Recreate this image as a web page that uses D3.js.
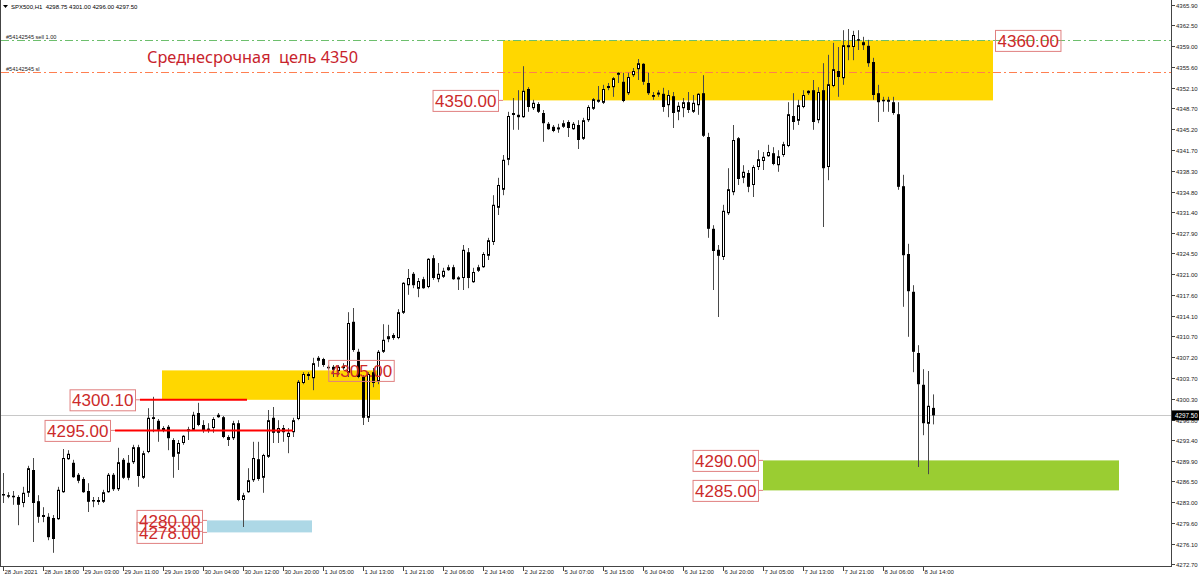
<!DOCTYPE html>
<html><head><meta charset="utf-8">
<script src="https://cdn.jsdelivr.net/npm/d3@7"></script>
<style>html,body{margin:0;padding:0;background:#fff;overflow:hidden}svg{display:block}</style>
</head><body>
<svg id="c" width="1200" height="579"></svg>
<script>
// ---- DATA (SPX500, H1) ----
const opens = [
4284.4,4284.2,4284.1,4283.9,4282.9,4284.6,4288.4,4283.2,4280.6,4280.6,
4280.4,4280.2,4284.7,4290.2,4289.6,4287.6,4286.9,4284.9,4283.4,4283.2,
4283.1,4284.7,4287.6,4285.2,4290.1,4289.6,4289.7,4292.2,4287.1,4291.4,
4297.2,4296.6,4295.1,4295.6,4293.4,4291.1,4292.9,4294.9,4295.1,4297.9,
4295.9,4295.0,4295.4,4297.2,4297.2,4293.9,4293.7,4296.2,4283.4,4284.7,
4286.7,4290.2,4287.1,4290.6,4297.1,4294.6,4295.4,4293.9,4294.7,4296.9,
4302.9,4304.1,4303.7,4306.6,4306.9,4305.6,4305.6,4304.9,4305.6,4304.6,
4313.1,4308.1,4303.9,4297.1,4304.7,4303.1,4308.1,4310.2,4310.9,4310.4,
4314.6,4319.2,4321.1,4318.6,4320.2,4318.9,4323.7,4320.2,4320.6,4321.7,
4322.2,4320.4,4320.4,4324.7,4319.7,4321.6,4322.2,4324.1,4326.4,4332.1,
4335.1,4340.1,4347.6,4347.6,4347.2,4351.9,4348.7,4349.4,4347.9,4346.1,
4345.6,4345.2,4345.6,4346.4,4345.2,4345.9,4343.6,4346.7,4348.6,4349.9,
4349.6,4352.1,4352.2,4354.5,4353.1,4351.2,4354.2,4355.2,4356.1,4352.9,
4350.9,4351.1,4351.1,4349.2,4350.7,4348.1,4348.7,4349.7,4348.1,4349.2,
4351.2,4343.9,4328.6,4325.1,4323.9,4331.2,4334.7,4343.7,4337.1,4337.9,
4335.9,4338.9,4339.9,4340.7,4341.2,4339.2,4340.9,4342.4,4347.4,4346.6,
4348.9,4351.2,4351.7,4346.7,4351.7,4338.9,4352.4,4354.9,4353.7,4358.9,
4358.9,4360.2,4359.7,4359.1,4356.4,4351.2,4350.1,4349.9,4349.7,4347.7,
4335.7,4324.4,4318.1,4307.9,4302.6,4296.1,4298.75];
const highs = [
4287.9,4284.7,4284.9,4284.2,4285.6,4289.1,4290.4,4284.2,4282.2,4281.2,
4280.9,4285.6,4291.9,4291.7,4290.1,4287.9,4287.2,4286.2,4283.9,4283.9,
4285.1,4287.9,4287.9,4292.1,4290.4,4290.9,4292.6,4292.6,4291.6,4298.7,
4300.6,4296.9,4295.7,4295.9,4293.7,4293.4,4294.2,4295.6,4298.1,4299.6,
4296.7,4296.2,4297.2,4297.9,4297.4,4294.2,4296.6,4296.7,4284.6,4288.7,
4293.1,4293.1,4291.1,4298.4,4298.9,4296.7,4295.9,4295.4,4297.1,4303.4,
4304.7,4304.7,4307.1,4307.4,4307.1,4305.9,4305.9,4305.9,4306.2,4314.7,
4315.4,4308.6,4304.2,4304.7,4305.4,4308.4,4312.7,4312.6,4311.2,4315.2,
4319.7,4321.9,4321.4,4320.4,4320.6,4323.7,4324.2,4322.9,4322.1,4322.6,
4322.6,4320.7,4325.9,4325.4,4322.1,4322.6,4324.7,4327.1,4334.2,4337.1,
4340.9,4348.1,4350.4,4351.7,4355.7,4352.2,4350.1,4349.7,4348.4,4346.4,
4345.9,4346.1,4346.7,4346.7,4346.4,4346.7,4347.1,4349.2,4350.4,4352.4,
4352.6,4352.9,4353.9,4354.7,4354.6,4354.6,4355.4,4356.9,4356.2,4354.6,
4351.4,4351.7,4352.1,4351.7,4351.4,4349.7,4350.4,4351.4,4350.9,4351.2,
4354.2,4344.6,4329.2,4325.9,4332.6,4338.7,4345.9,4343.9,4339.2,4338.4,
4339.2,4341.7,4341.4,4342.6,4342.2,4341.7,4343.1,4349.7,4351.2,4350.1,
4351.7,4351.7,4353.4,4352.2,4356.2,4357.6,4359.6,4358.9,4361.7,4361.9,
4361.6,4361.7,4360.6,4360.1,4357.1,4352.6,4350.6,4350.6,4350.6,4349.7,
4337.6,4326.1,4319.2,4309.2,4305.2,4304.9,4301.0];
const lows = [
4282.9,4283.7,4282.6,4279.2,4282.2,4283.9,4276.4,4279.6,4279.7,4276.7,
4274.6,4280.1,4284.6,4290.1,4287.1,4286.2,4284.6,4281.4,4282.2,4282.6,
4282.9,4284.6,4284.9,4284.9,4286.9,4286.7,4289.4,4285.6,4286.9,4291.2,
4294.7,4293.1,4294.7,4291.7,4287.1,4288.4,4292.6,4293.4,4294.9,4295.7,
4294.6,4294.6,4294.6,4297.1,4293.7,4292.4,4293.4,4283.2,4278.9,4284.6,
4286.4,4286.6,4284.6,4290.4,4292.9,4292.9,4293.1,4291.2,4293.9,4296.7,
4302.7,4303.4,4301.7,4305.6,4305.6,4305.1,4303.9,4304.2,4305.1,4303.9,
4308.1,4303.7,4295.9,4296.4,4302.2,4302.7,4307.9,4309.7,4310.1,4310.2,
4314.4,4317.6,4318.7,4317.2,4318.6,4318.7,4320.1,4319.7,4320.4,4321.6,
4320.1,4318.4,4318.4,4318.7,4319.6,4321.4,4322.1,4323.4,4325.9,4330.9,
4334.2,4339.2,4345.1,4345.1,4347.1,4348.1,4348.4,4347.9,4343.1,4345.1,
4344.7,4344.6,4345.4,4343.9,4345.1,4341.9,4343.4,4346.4,4348.4,4349.6,
4349.4,4351.7,4350.6,4352.9,4349.7,4350.9,4353.9,4353.4,4352.6,4350.9,
4350.1,4350.6,4348.1,4347.2,4345.4,4346.7,4347.2,4347.9,4347.9,4347.6,
4343.9,4327.1,4318.4,4313.9,4323.4,4330.9,4334.2,4335.9,4336.2,4334.7,
4333.9,4338.4,4338.4,4340.6,4339.2,4338.1,4340.6,4342.2,4345.1,4345.9,
4348.7,4350.9,4345.1,4346.2,4328.9,4336.7,4352.2,4350.6,4352.6,4356.7,
4356.7,4358.4,4358.4,4355.6,4350.1,4346.4,4348.1,4348.1,4347.6,4335.1,
4315.6,4310.6,4304.7,4288.9,4294.2,4287.7,4296.0];
const closes = [
4284.2,4284.1,4284.0,4282.6,4284.6,4288.7,4282.9,4280.6,4280.9,4277.2,
4276.9,4285.1,4290.4,4291.1,4287.2,4286.6,4284.7,4283.1,4283.2,4283.4,
4284.7,4287.6,4285.2,4289.7,4287.1,4287.1,4292.2,4287.4,4291.2,4297.1,
4296.9,4295.1,4295.4,4293.7,4290.6,4292.9,4294.1,4295.2,4297.6,4295.9,
4294.9,4295.3,4296.9,4297.6,4293.9,4293.4,4296.2,4283.4,4284.2,4286.7,
4290.4,4286.9,4290.9,4296.7,4294.6,4295.4,4294.7,4294.6,4296.7,4303.1,
4304.4,4304.4,4306.2,4307.1,4305.9,4305.4,4305.1,4305.6,4305.7,4312.9,
4308.4,4303.9,4297.1,4304.4,4302.9,4308.1,4310.1,4310.7,4310.4,4314.7,
4319.6,4320.4,4319.2,4319.9,4318.7,4323.6,4320.4,4321.1,4321.6,4322.2,
4320.2,4320.5,4325.1,4320.4,4321.4,4322.2,4324.4,4326.7,4332.6,4335.9,
4340.1,4347.4,4347.9,4347.2,4351.6,4348.9,4349.6,4348.1,4346.2,4345.2,
4344.9,4345.5,4346.2,4345.4,4346.1,4343.4,4346.7,4348.9,4350.2,4350.1,
4351.9,4352.4,4353.7,4354.6,4349.9,4353.9,4354.9,4356.2,4353.1,4351.2,
4350.6,4351.3,4348.9,4350.9,4347.9,4349.1,4349.7,4348.4,4349.6,4351.1,
4344.1,4328.6,4324.9,4324.1,4331.6,4335.2,4343.4,4336.9,4338.1,4335.6,
4338.9,4340.2,4340.6,4341.4,4339.4,4340.7,4342.7,4347.7,4346.4,4349.2,
4350.9,4351.6,4346.4,4351.4,4338.7,4352.7,4355.2,4353.9,4359.2,4359.2,
4360.9,4360.1,4359.2,4356.2,4350.9,4349.7,4349.9,4350.1,4347.9,4335.6,
4324.2,4318.2,4308.1,4302.7,4296.2,4299.1,4297.5];

const timeLabels = ["28 Jun 2021","28 Jun 18:00","29 Jun 03:00","29 Jun 11:00","29 Jun 19:00","30 Jun 04:00",
"30 Jun 12:00","30 Jun 20:00","1 Jul 05:00","1 Jul 13:00","1 Jul 21:00","2 Jul 06:00","2 Jul 14:00",
"2 Jul 22:00","5 Jul 07:00","5 Jul 15:00","6 Jul 04:00","6 Jul 12:00","6 Jul 20:00","7 Jul 05:00",
"7 Jul 13:00","7 Jul 21:00","8 Jul 06:00","8 Jul 14:00"];
const timeLabelStep = 8; // bars between labels
const priceTicks = [4365.90,4362.50,4359.00,4355.60,4352.10,4348.70,4345.20,4341.70,4338.30,4334.80,
4331.40,4327.90,4324.50,4321.00,4317.60,4314.10,4310.70,4307.20,4303.70,4300.30,4296.80,4293.40,
4289.90,4286.50,4283.00,4279.60,4276.10,4272.70];
const headerText = "SPX500,H1  4298.75 4301.00 4296.00 4297.50";
const lastPrice = 4297.50;
const titleText = "Среднесрочная  цель 4350";

// zones: price top/bottom, bar index start/end
const zones = [
  {top:4360, bottom:4350, from:100, to:198, color:"#ffd700"},
  {top:4305, bottom:4300.1, from:31.8, to:75.4, color:"#ffd700"},
  {top:4280, bottom:4278, from:40.8, to:61.8, color:"#add8e6"},
  {top:4290, bottom:4285, from:152, to:223.2, color:"#9acd32"}
];
const levels = [ {price:4300.1, from:27.4, to:48.8}, {price:4295.0, from:22.4, to:58} ];
const orderLines = [
  {price:4360.0, text:"#54142545 sell 1.00", color:"#6dbf6d"},
  {price:4354.75, text:"#54142545 sl", color:"#ff7f50"}
];
const priceLabels = [
  {text:"4360.00", price:4360, at:198, side:"right"},
  {text:"4350.00", price:4350, at:100, side:"left"},
  {text:"4305.00", price:4305, at:71.6, side:"center"},
  {text:"4300.10", price:4300.1, at:27.4, side:"left"},
  {text:"4295.00", price:4295, at:22.4, side:"left"},
  {text:"4280.00", price:4280, at:40.8, side:"left"},
  {text:"4278.00", price:4278, at:40.8, side:"left"},
  {text:"4290.00", price:4290, at:152, side:"left"},
  {text:"4285.00", price:4285, at:152, side:"left"}
];

// ---- DRAW ----
const W = 1200, H = 579, axisX = 1171, axisY = 566;
const svg = d3.select("#c");
const FONT = "Liberation Sans, Arial, sans-serif";
const x = d3.scaleLinear().domain([0, opens.length-1]).range([3, 3 + 5*(opens.length-1)]);
const y = d3.scaleLinear().domain([4272.70, 4365.90]).range([564.2, 5]);

const plot = svg.append("g");
svg.append("defs").append("clipPath").attr("id","clip").append("rect")
  .attr("x",1).attr("y",0).attr("width",axisX-1).attr("height",axisY);
plot.attr("clip-path","url(#clip)");

// zones
plot.selectAll("rect.zone").data(zones).join("rect").attr("class","zone")
  .attr("x", d=>x(d.from)).attr("width", d=>x(d.to)-x(d.from))
  .attr("y", d=>y(d.top)).attr("height", d=>y(d.bottom)-y(d.top))
  .attr("fill", d=>d.color);

// last price line
plot.append("line").attr("x1",1).attr("x2",axisX).attr("y1",Math.round(y(lastPrice))+0.5)
  .attr("y2",Math.round(y(lastPrice))+0.5).attr("stroke","#c8c8c8").attr("stroke-width",1);

// order lines
orderLines.forEach(o=>{
  const yy = Math.round(y(o.price))+0.5;
  plot.append("line").attr("x1",1).attr("x2",axisX).attr("y1",yy).attr("y2",yy)
    .attr("stroke",o.color).attr("stroke-width",1).attr("stroke-dasharray","8,3,2,3");
  svg.append("text").attr("x",6).attr("y",yy-1.5).attr("font-family",FONT).attr("font-size",5.6)
    .attr("fill","#222").text(o.text);
});

// candles
const bars = d3.range(opens.length).map(i=>({i,o:opens[i],h:highs[i],l:lows[i],c:closes[i]}));
const cg = plot.append("g");
cg.selectAll("line.wick").data(bars).join("line").attr("class","wick")
  .attr("x1", d=>Math.round(x(d.i))+0.5).attr("x2", d=>Math.round(x(d.i))+0.5)
  .attr("y1", d=>y(d.h)).attr("y2", d=>y(d.l)).attr("stroke","#4a4a4a").attr("stroke-width",1);
cg.selectAll("rect.body").data(bars).join("rect").attr("class","body")
  .each(function(d){
    const cx = Math.round(x(d.i));
    const top = y(Math.max(d.o,d.c)), bot = y(Math.min(d.o,d.c));
    const up = d.c >= d.o;
    const s = d3.select(this);
    if (up) {
      const hh = Math.max(1, bot-top-1);
      s.attr("x",cx-0.5).attr("width",2).attr("y",top+0.5).attr("height",hh)
       .attr("fill","#fff").attr("stroke","#000").attr("stroke-width",1);
    } else {
      s.attr("x",cx-1).attr("width",3).attr("y",top).attr("height",Math.max(1.5,bot-top))
       .attr("fill","#000");
    }
  });

// red levels
plot.selectAll("line.lvl").data(levels).join("line").attr("class","lvl")
  .attr("x1", d=>x(d.from)).attr("x2", d=>x(d.to))
  .attr("y1", d=>y(d.price)).attr("y2", d=>y(d.price))
  .attr("stroke","#ff0000").attr("stroke-width",2);

// price labels
const lg = svg.append("g");
priceLabels.forEach(l=>{
  const t = lg.append("text").attr("font-family",FONT).attr("font-size",17)
    .attr("fill","#cc2a2a").attr("dominant-baseline","central").text(l.text);
  const w = t.node().getComputedTextLength();
  const bw = w + 4, bh = 21;
  const ax = x(l.at), ay = y(l.price);
  let bx;
  if (l.side==="right") bx = ax + 2;
  else if (l.side==="left") bx = ax - 5 - bw;
  else bx = ax - bw/2;
  const by = ay - bh/2;
  if (l.side==="left") {
    lg.insert("line","text").attr("x1",bx+bw).attr("x2",ax).attr("y1",ay).attr("y2",ay)
      .attr("stroke","#e08080").attr("stroke-width",1);
  }
  lg.insert("rect","text").attr("x",bx+0.5).attr("y",by+0.5).attr("width",bw).attr("height",bh)
    .attr("fill","none").attr("stroke","#e08080").attr("stroke-width",1);
  t.attr("x",bx+2.5).attr("y",ay+1);
});

// title
svg.append("text").attr("x",147).attr("y",63).attr("font-family","Noto Sans, "+FONT)
  .attr("font-size",17).attr("fill","#c8232c").style("white-space","pre")
  .attr("textLength",211).attr("lengthAdjust","spacingAndGlyphs").text(titleText);

// header
svg.append("path").attr("d","M3,5 L8,5 L5.5,8 Z").attr("fill","#000");
svg.append("text").attr("x",11).attr("y",8.5).attr("font-family",FONT).attr("font-size",6)
  .attr("fill","#000").style("white-space","pre").text(headerText);

// frame / axes
svg.append("line").attr("x1",0.5).attr("x2",0.5).attr("y1",0).attr("y2",axisY).attr("stroke","#444");
svg.append("line").attr("x1",axisX+0.5).attr("x2",axisX+0.5).attr("y1",0).attr("y2",axisY+1).attr("stroke","#444");
svg.append("line").attr("x1",0).attr("x2",axisX+1).attr("y1",axisY+0.5).attr("y2",axisY+0.5).attr("stroke","#444");

// right axis ticks
const ya = svg.append("g");
priceTicks.forEach(p=>{
  const yy = Math.round(y(p))+0.5;
  ya.append("line").attr("x1",axisX+1).attr("x2",axisX+4).attr("y1",yy).attr("y2",yy).attr("stroke","#444");
  ya.append("text").attr("x",axisX+5).attr("y",yy+2).attr("font-family",FONT).attr("font-size",6)
    .attr("fill","#222").text(p.toFixed(2));
});
const ly = y(lastPrice);
ya.append("rect").attr("x",axisX+1).attr("y",ly-5).attr("width",W-axisX-2).attr("height",10).attr("fill","#000");
ya.append("text").attr("x",axisX+4).attr("y",ly+2.2).attr("font-family",FONT).attr("font-size",6.3)
  .attr("fill","#fff").text(lastPrice.toFixed(2));

// bottom axis ticks
const xa = svg.append("g");
timeLabels.forEach((t,k)=>{
  const xx = Math.round(x(k*timeLabelStep))+0.5;
  xa.append("line").attr("x1",xx).attr("x2",xx).attr("y1",axisY+1).attr("y2",axisY+5).attr("stroke","#444");
  xa.append("text").attr("x",xx+1).attr("y",axisY+8).attr("font-family",FONT).attr("font-size",6)
    .attr("fill","#222").text(t);
});
</script>
</body></html>
